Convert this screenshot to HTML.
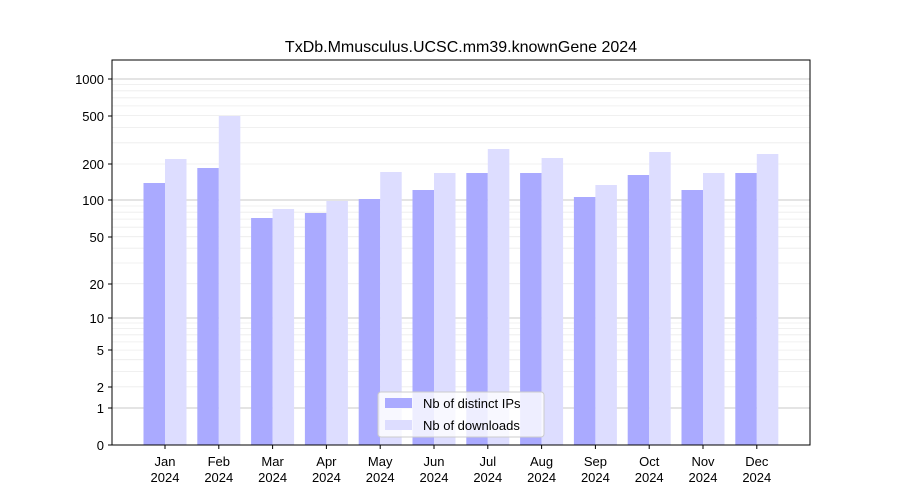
<!DOCTYPE html>
<html><head><meta charset="utf-8"><style>body{margin:0;background:#fff}svg{display:block}text{font-family:"Liberation Sans","DejaVu Sans",sans-serif;fill:#000}</style></head><body>
<svg width="900" height="500" viewBox="0 0 900 500" xmlns="http://www.w3.org/2000/svg">
<rect width="900" height="500" fill="#fff"/>
<g stroke="#ececec" stroke-width="0.8">
<line x1="112" x2="810" y1="386.8" y2="386.8"/><line x1="112" x2="810" y1="371.4" y2="371.4"/><line x1="112" x2="810" y1="359.7" y2="359.7"/><line x1="112" x2="810" y1="350.1" y2="350.1"/><line x1="112" x2="810" y1="341.9" y2="341.9"/><line x1="112" x2="810" y1="334.8" y2="334.8"/><line x1="112" x2="810" y1="328.6" y2="328.6"/><line x1="112" x2="810" y1="323" y2="323"/>
<line x1="112" x2="810" y1="283.7" y2="283.7"/><line x1="112" x2="810" y1="263" y2="263"/><line x1="112" x2="810" y1="248.2" y2="248.2"/><line x1="112" x2="810" y1="236.7" y2="236.7"/><line x1="112" x2="810" y1="227.2" y2="227.2"/><line x1="112" x2="810" y1="219.1" y2="219.1"/><line x1="112" x2="810" y1="212.2" y2="212.2"/><line x1="112" x2="810" y1="206" y2="206"/>
<line x1="112" x2="810" y1="164" y2="164"/><line x1="112" x2="810" y1="142.8" y2="142.8"/><line x1="112" x2="810" y1="127.4" y2="127.4"/><line x1="112" x2="810" y1="115.6" y2="115.6"/><line x1="112" x2="810" y1="105.9" y2="105.9"/><line x1="112" x2="810" y1="97.8" y2="97.8"/><line x1="112" x2="810" y1="90.8" y2="90.8"/><line x1="112" x2="810" y1="84.6" y2="84.6"/>
</g>
<g stroke="#c8c8c8" stroke-width="1">
<line x1="112" x2="810" y1="408" y2="408"/><line x1="112" x2="810" y1="318" y2="318"/><line x1="112" x2="810" y1="200" y2="200"/><line x1="112" x2="810" y1="79" y2="79"/>
</g>
<g fill="#aaaaff">
<rect x="143.5" y="183" width="21.5" height="262"/>
<rect x="197.3" y="168" width="21.5" height="277"/>
<rect x="251.1" y="218" width="21.5" height="227"/>
<rect x="304.9" y="213" width="21.5" height="232"/>
<rect x="358.7" y="199" width="21.5" height="246"/>
<rect x="412.5" y="190" width="21.5" height="255"/>
<rect x="466.3" y="173" width="21.5" height="272"/>
<rect x="520.1" y="173" width="21.5" height="272"/>
<rect x="573.9" y="197" width="21.5" height="248"/>
<rect x="627.7" y="175" width="21.5" height="270"/>
<rect x="681.5" y="190" width="21.5" height="255"/>
<rect x="735.3" y="173" width="21.5" height="272"/>
</g>
<g fill="#ddddff">
<rect x="165" y="159" width="21.5" height="286"/>
<rect x="218.8" y="116" width="21.5" height="329"/>
<rect x="272.6" y="209" width="21.5" height="236"/>
<rect x="326.4" y="201" width="21.5" height="244"/>
<rect x="380.2" y="172" width="21.5" height="273"/>
<rect x="434" y="173" width="21.5" height="272"/>
<rect x="487.8" y="149" width="21.5" height="296"/>
<rect x="541.6" y="158" width="21.5" height="287"/>
<rect x="595.4" y="185" width="21.5" height="260"/>
<rect x="649.2" y="152" width="21.5" height="293"/>
<rect x="703" y="173" width="21.5" height="272"/>
<rect x="756.8" y="154" width="21.5" height="291"/>
</g>
<g stroke="#000">
<line x1="165" x2="165" y1="445" y2="449"/><line x1="218.8" x2="218.8" y1="445" y2="449"/><line x1="272.6" x2="272.6" y1="445" y2="449"/><line x1="326.4" x2="326.4" y1="445" y2="449"/><line x1="380.2" x2="380.2" y1="445" y2="449"/><line x1="434" x2="434" y1="445" y2="449"/><line x1="487.8" x2="487.8" y1="445" y2="449"/><line x1="541.6" x2="541.6" y1="445" y2="449"/><line x1="595.4" x2="595.4" y1="445" y2="449"/><line x1="649.2" x2="649.2" y1="445" y2="449"/><line x1="703" x2="703" y1="445" y2="449"/><line x1="756.8" x2="756.8" y1="445" y2="449"/>
</g>
<g font-size="13" text-anchor="middle">
<text x="165" y="466">Jan</text><text x="165" y="482">2024</text>
<text x="218.8" y="466">Feb</text><text x="218.8" y="482">2024</text>
<text x="272.6" y="466">Mar</text><text x="272.6" y="482">2024</text>
<text x="326.4" y="466">Apr</text><text x="326.4" y="482">2024</text>
<text x="380.2" y="466">May</text><text x="380.2" y="482">2024</text>
<text x="434" y="466">Jun</text><text x="434" y="482">2024</text>
<text x="487.8" y="466">Jul</text><text x="487.8" y="482">2024</text>
<text x="541.6" y="466">Aug</text><text x="541.6" y="482">2024</text>
<text x="595.4" y="466">Sep</text><text x="595.4" y="482">2024</text>
<text x="649.2" y="466">Oct</text><text x="649.2" y="482">2024</text>
<text x="703" y="466">Nov</text><text x="703" y="482">2024</text>
<text x="756.8" y="466">Dec</text><text x="756.8" y="482">2024</text>
</g>
<rect x="112" y="60" width="698" height="385" fill="none" stroke="#000" stroke-width="1"/>
<g font-size="13" text-anchor="end">
<g stroke="#000"><line x1="108" x2="112" y1="445" y2="445"/><line x1="108" x2="112" y1="408" y2="408"/><line x1="108" x2="112" y1="387" y2="387"/><line x1="108" x2="112" y1="350" y2="350"/><line x1="108" x2="112" y1="318" y2="318"/><line x1="108" x2="112" y1="284" y2="284"/><line x1="108" x2="112" y1="237" y2="237"/><line x1="108" x2="112" y1="200" y2="200"/><line x1="108" x2="112" y1="164" y2="164"/><line x1="108" x2="112" y1="116" y2="116"/><line x1="108" x2="112" y1="79" y2="79"/></g>
<text x="104" y="450">0</text><text x="104" y="413">1</text><text x="104" y="392">2</text><text x="104" y="355">5</text><text x="104" y="323">10</text><text x="104" y="289">20</text><text x="104" y="242">50</text><text x="104" y="205">100</text><text x="104" y="169">200</text><text x="104" y="121">500</text><text x="104" y="84">1000</text>
</g>
<text x="461" y="52" font-size="16" text-anchor="middle">TxDb.Mmusculus.UCSC.mm39.knownGene 2024</text>
<rect x="378" y="392" width="166" height="45" rx="3" fill="#fff" fill-opacity="0.8" stroke="#ccc"/>
<rect x="385" y="398" width="27" height="10" fill="#aaaaff"/>
<text x="423" y="408" font-size="13">Nb of distinct IPs</text>
<rect x="385" y="420" width="27" height="10" fill="#ddddff"/>
<text x="423" y="430" font-size="13">Nb of downloads</text>
</svg>
</body></html>
